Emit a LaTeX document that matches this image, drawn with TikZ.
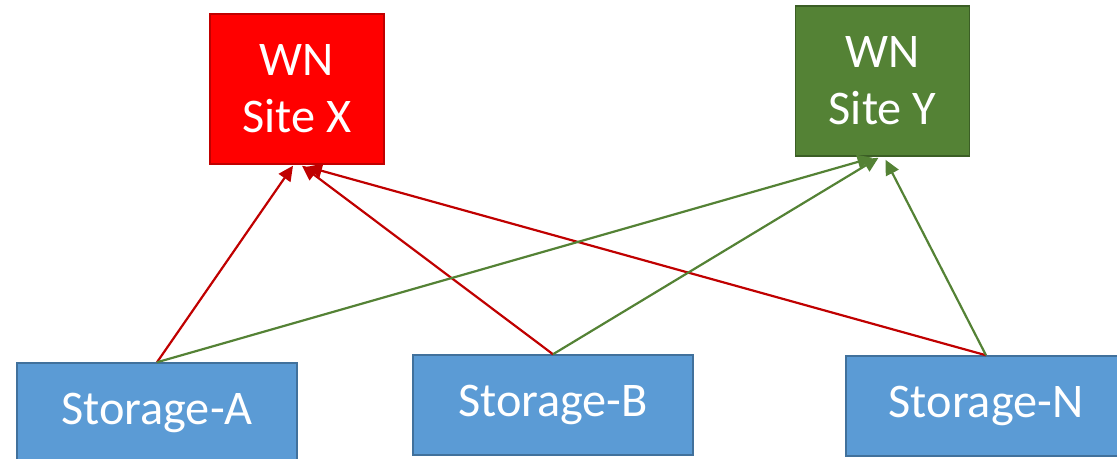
\documentclass[tikz,border=0pt]{standalone}
\usepackage{fontspec}
\setmainfont{Carlito}
\usetikzlibrary{arrows.meta,calc}
\definecolor{wnred}{HTML}{FF0000}
\definecolor{wnredline}{HTML}{C00000}
\definecolor{wngreen}{HTML}{548235}
\definecolor{wngreenline}{HTML}{3B5E25}
\definecolor{stblue}{HTML}{5B9BD5}
\definecolor{stblueline}{HTML}{41719C}
\tikzset{
  wnbox/.style={draw,line width=0.85pt,text=white,align=center,
    minimum width=3.48cm,minimum height=3cm,inner sep=0pt,
    font=\fontsize{27.5}{32.5}\selectfont},
  stbox/.style={draw=stblueline,fill=stblue,line width=0.85pt,text=white,
    minimum width=5.6cm,minimum height=2cm,inner sep=0pt,
    font=\fontsize{27.5}{32.5}\selectfont},
  tox/.style={->,draw=wnredline,line width=1.25pt},
  toy/.style={->,draw=wngreen,line width=1.25pt}
}
\begin{document}
\begin{tikzpicture}[x=0.02cm,y=-0.02cm,>={Triangle[length=8.5pt,width=8pt]}]
  \useasboundingbox (0,0) rectangle (1117,459);
  % worker nodes
  \node[wnbox,draw=wnredline,fill=wnred] (x) at (297,89) {WN\\Site X};
  \node[wnbox,draw=wngreenline,fill=wngreen] (y) at (882.5,81) {WN\\Site Y};
  % storages
  \node[stbox] (sa) at (157,413) {Storage-A};
  \node[stbox] (sb) at (553,405) {Storage-B};
  \node[stbox] (sn) at (986,406) {Storage-N};
  % links to site X
  \draw[tox] (sa.north) -- ($(x.south)+(-4,1)$);
  \draw[tox] (sb.north) -- ($(x.south)+(5,1)$);
  \draw[tox] (sn.north) -- ($(x.south)+(10,2)$);
  % links to site Y
  \draw[toy] (sa.north) -- ($(y.south)+(-10,1)$);
  \draw[toy] (sb.north) -- ($(y.south)+(-4,1)$);
  \draw[toy] (sn.north) -- ($(y.south)+(3,3)$);
\end{tikzpicture}
\end{document}
